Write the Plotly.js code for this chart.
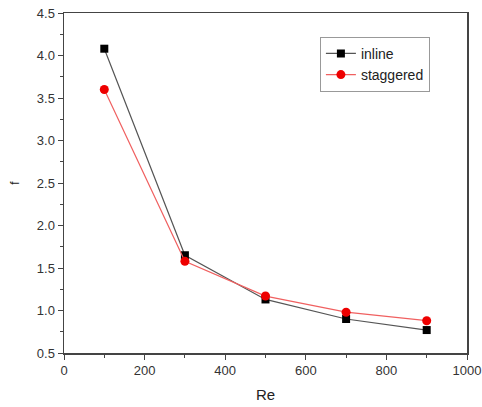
<!DOCTYPE html>
<html><head><meta charset="utf-8">
<script src="https://cdn.plot.ly/plotly-3.0.1.min.js"></script>
<style>body{margin:0;background:#fff}#c{width:482px;height:407px}</style>
</head><body><div id="c"></div>
<script>
const re = [100, 300, 500, 700, 900];
const inlineF = [4.08, 1.65, 1.13, 0.90, 0.77];
const staggeredF = [3.60, 1.58, 1.17, 0.98, 0.88];
const xTicks = [0, 200, 400, 600, 800, 1000];
const yTicks = [0.5, 1.0, 1.5, 2.0, 2.5, 3.0, 3.5, 4.0, 4.5];

const traces = [
  {x: re, y: inlineF, name: 'inline', mode: 'lines+markers',
   line: {color: '#555555', width: 1.2}, marker: {symbol: 'square', size: 8, color: '#000'}},
  {x: re, y: staggeredF, name: 'staggered', mode: 'lines+markers',
   line: {color: '#f06060', width: 1.2}, marker: {symbol: 'circle', size: 9, color: '#ee0000'}}
];
const axisFont = {family: 'Liberation Sans, Arial, sans-serif', size: 13, color: '#333'};
const layout = {
  width: 482, height: 407,
  margin: {l: 64, r: 15, t: 13, b: 54},
  paper_bgcolor: '#fff', plot_bgcolor: '#fff',
  showlegend: true,
  legend: {x: 0.635, y: 0.93, xanchor: 'left', yanchor: 'top', bordercolor: '#999', borderwidth: 1,
           font: {family: 'Liberation Sans, Arial, sans-serif', size: 14, color: '#222'}, tracegroupgap: 0, itemwidth: 30},
  xaxis: {range: [0, 1000], tickvals: xTicks, ticktext: xTicks.map(String), ticks: 'outside', ticklen: 5,
          tickcolor: '#444', showline: true, linecolor: '#444', linewidth: 1.5, mirror: true, showgrid: false, zeroline: false,
          tickfont: axisFont, minor: {dtick: 100, ticks: 'outside', ticklen: 3, tickcolor: '#444'},
          title: {text: 'Re', font: {family: 'Liberation Sans, Arial, sans-serif', size: 15, color: '#222'}, standoff: 12}},
  yaxis: {range: [0.5, 4.5], tickvals: yTicks, ticktext: yTicks.map(v => v.toFixed(1)), ticks: 'outside', ticklen: 5,
          tickcolor: '#444', showline: true, linecolor: '#444', linewidth: 1.5, mirror: true, showgrid: false, zeroline: false,
          tickfont: axisFont, minor: {dtick: 0.25, ticks: 'outside', ticklen: 3, tickcolor: '#444'},
          title: {text: 'f', font: {family: 'Liberation Sans, Arial, sans-serif', size: 12, color: '#222'}, standoff: 14}}
};
Plotly.newPlot('c', traces, layout, {displayModeBar: false, staticPlot: true});
</script></body></html>
